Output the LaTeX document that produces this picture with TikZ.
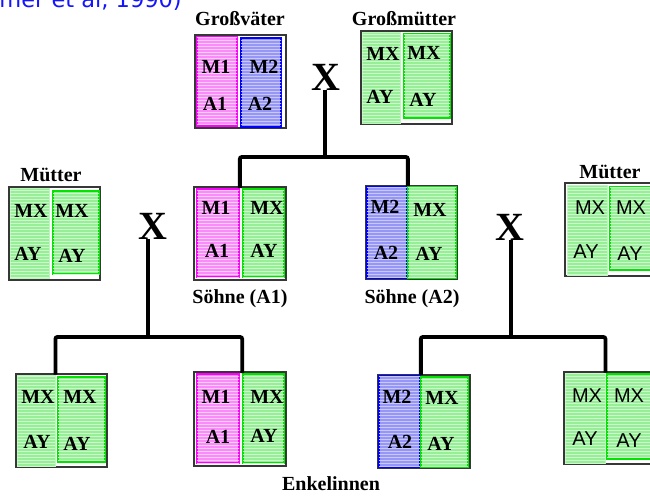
\documentclass[tikz,border=0pt]{standalone}
\usepackage{fontspec}
\setmainfont{Liberation Serif}
\newfontfamily\sansf{Liberation Sans}
\newfontfamily\titlef{DejaVu Sans}
\usetikzlibrary{fit,patterns}
\definecolor{gfill}{RGB}{150,238,150}
\definecolor{gstripe}{RGB}{205,250,205}
\definecolor{gline}{RGB}{0,228,0}
\definecolor{gpaleline}{RGB}{190,245,190}
\definecolor{mfill}{RGB}{250,140,250}
\definecolor{mstripe}{RGB}{255,205,255}
\definecolor{mline}{RGB}{255,0,255}
\definecolor{bfill}{RGB}{150,150,245}
\definecolor{bstripe}{RGB}{200,200,255}
\definecolor{bline}{RGB}{0,0,255}
\definecolor{frame}{RGB}{55,55,55}
\definecolor{titleblue}{RGB}{20,20,255}
\begin{document}
\begin{tikzpicture}[x=1pt,y=-1pt,
  outerbox/.style={draw=frame, line width=1.5pt, fill=white, inner sep=0pt},
  col/.style={inner sep=0pt, line width=1.7pt},
  gcol/.style={col, fill=gfill, draw=gline, postaction={pattern=horizontal lines, pattern color=gstripe}},
  gpale/.style={col, fill=gfill, draw=gpaleline, line width=0.8pt, postaction={pattern=horizontal lines, pattern color=gstripe}},
  mcol/.style={col, fill=mfill, draw=mline, postaction={pattern=horizontal lines, pattern color=mstripe}},
  bcol/.style={col, fill=bfill, draw=bline, postaction={pattern=horizontal lines, pattern color=bstripe}},
  lab/.style={font=\bfseries\fontsize{20}{20}\selectfont, inner sep=0pt},
  gl/.style={font=\bfseries\fontsize{20}{20}\selectfont, inner sep=0pt},
  sgl/.style={font=\sansf\fontsize{20}{20}\selectfont, inner sep=0pt},
  cross/.style={font=\bfseries\fontsize{40}{40}\selectfont, inner sep=0pt},
  conn/.style={line width=3.8pt, rounded corners=2pt}
]
\useasboundingbox (0,0) rectangle (650,497);
\clip (0,0) rectangle (650,497);

% title (cut off at the top)
\node[anchor=base east, text=titleblue, font=\titlef\fontsize{22.5}{22.5}\selectfont, inner sep=0pt] (title) at (182,8) {(Hammer et al, 1990)};

% crosses
\node[cross] (xt) at (326,77) {X};
\node[cross] (xl) at (153,226) {X};
\node[cross] (xr) at (510,227) {X};

% boxes
% Grossvaeter
\node[outerbox, fit={(195,35)(286,128)}] (gv) {};
\node[mcol, fit={(197,37)(237,126)}] (gvL) {};
\node[bcol, fit={(241,38)(281,127)}] (gvR) {};
% Grossmuetter
\node[outerbox, fit={(361,31)(452,124)}] (gm) {};
\node[gpale, fit={(362,32)(400,123)}] (gmL) {};
\node[gcol, fit={(404,34)(450,118)}] (gmR) {};
% Muetter left
\node[outerbox, fit={(9,187)(100,280)}] (ml) {};
\node[gpale, fit={(10,188)(49,278)}] (mlL) {};
\node[gcol, fit={(53,191)(99,274)}] (mlR) {};
% Soehne A1
\node[outerbox, fit={(194,187)(286,280)}] (s1) {};
\node[mcol, fit={(197,189)(239,277)}] (s1L) {};
\node[gcol, fit={(243,189)(284,277)}] (s1R) {};
% Soehne A2
\node[outerbox, fit={(366,186)(457,279)}] (s2) {};
\node[bcol, fit={(367,187)(407,278)}] (s2L) {};
\node[gcol, fit={(408,187)(456,278)}] (s2R) {};
% Muetter right
\node[outerbox, fit={(565,183)(662,276)}] (mr) {};
\node[gpale, fit={(567,185)(607,275)}] (mrL) {};
\node[gcol, fit={(610,187)(662,270)}] (mrR) {};
% Enkelinnen
\node[outerbox, fit={(16,374)(107,467)}] (e1) {};
\node[gpale, fit={(17,375)(55,466)}] (e1L) {};
\node[gcol, fit={(58,377)(105,462)}] (e1R) {};
\node[outerbox, fit={(194,372)(286,466)}] (e2) {};
\node[mcol, fit={(197,374)(239,463)}] (e2L) {};
\node[gcol, fit={(243,374)(284,463)}] (e2R) {};
\node[outerbox, fit={(378,375)(470,468)}] (e3) {};
\node[bcol, fit={(379,376)(420,467)}] (e3L) {};
\node[gcol, fit={(421,377)(468,467)}] (e3R) {};
\node[outerbox, fit={(564,372)(662,464)}] (e4) {};
\node[gpale, fit={(565,373)(605,463)}] (e4L) {};
\node[gcol, fit={(607,374)(662,459)}] (e4R) {};

% connectors
\coordinate (j1) at (325,157);
\coordinate (j2) at (148,337);
\coordinate (j3) at (511,337);
\draw[conn] (xt.south -| j1) -- (j1);
\draw[conn] (s1L.north east) |- (j1) -| (s2L.north east);
\draw[conn] (xl.south -| j2) -- (j2);
\draw[conn] (e1L.north east) |- (j2) -| (e2R.north west);
\draw[conn] (xr.south -| j3) -- (j3);
\draw[conn] (e3L.north east) |- (j3) -| (e4L.north east);

% labels
\node[lab] (lgv) at (240,19) {Großväter};
\node[lab] (lgm) at (404,19) {Großmütter};
\node[lab] (lml) at (51,175) {Mütter};
\node[lab] (lmr) at (610,172) {Mütter};
\node[lab] (ls1) at (240,299) {Söhne (A1)};
\node[lab] (ls2) at (412,299) {Söhne (A2)};
\node[lab] (len) at (331,484) {Enkelinnen};

% texts in boxes
\node[gl] (gv1) at (216,67) {M1};
\node[gl] (gv2) at (264,67) {M2};
\node[gl] (gv3) at (215,104) {A1};
\node[gl] (gv4) at (260,104) {A2};

\node[gl] (gm1) at (383,54) {MX};
\node[gl] (gm2) at (424,53) {MX};
\node[gl] (gm3) at (380,97) {AY};
\node[gl] (gm4) at (423,100) {AY};

\node[gl] (ml1) at (31,211) {MX};
\node[gl] (ml2) at (72,211) {MX};
\node[gl] (ml3) at (28,254) {AY};
\node[gl] (ml4) at (72,256) {AY};

\node[gl] (s11) at (216,208) {M1};
\node[gl] (s12) at (267,208) {MX};
\node[gl] (s13) at (217,251) {A1};
\node[gl] (s14) at (264,251) {AY};

\node[gl] (s21) at (385,207) {M2};
\node[gl] (s22) at (430,210) {MX};
\node[gl] (s23) at (386,253) {A2};
\node[gl] (s24) at (429,254) {AY};

\node[sgl] (mr1) at (590,208) {MX};
\node[sgl] (mr2) at (631,208) {MX};
\node[sgl] (mr3) at (586,252) {AY};
\node[sgl] (mr4) at (630,254) {AY};

\node[gl] (e11) at (38,397) {MX};
\node[gl] (e12) at (80,397) {MX};
\node[gl] (e13) at (37,442) {AY};
\node[gl] (e14) at (77,444) {AY};

\node[gl] (e21) at (216,397) {M1};
\node[gl] (e22) at (267,397) {MX};
\node[gl] (e23) at (218,437) {A1};
\node[gl] (e24) at (264,436) {AY};

\node[gl] (e31) at (397,397) {M2};
\node[gl] (e32) at (442,398) {MX};
\node[gl] (e33) at (400,442) {A2};
\node[gl] (e34) at (441,444) {AY};

\node[sgl] (e41) at (587,396) {MX};
\node[sgl] (e42) at (629,396) {MX};
\node[sgl] (e43) at (585,439) {AY};
\node[sgl] (e44) at (629,441) {AY};
\end{tikzpicture}
\end{document}
